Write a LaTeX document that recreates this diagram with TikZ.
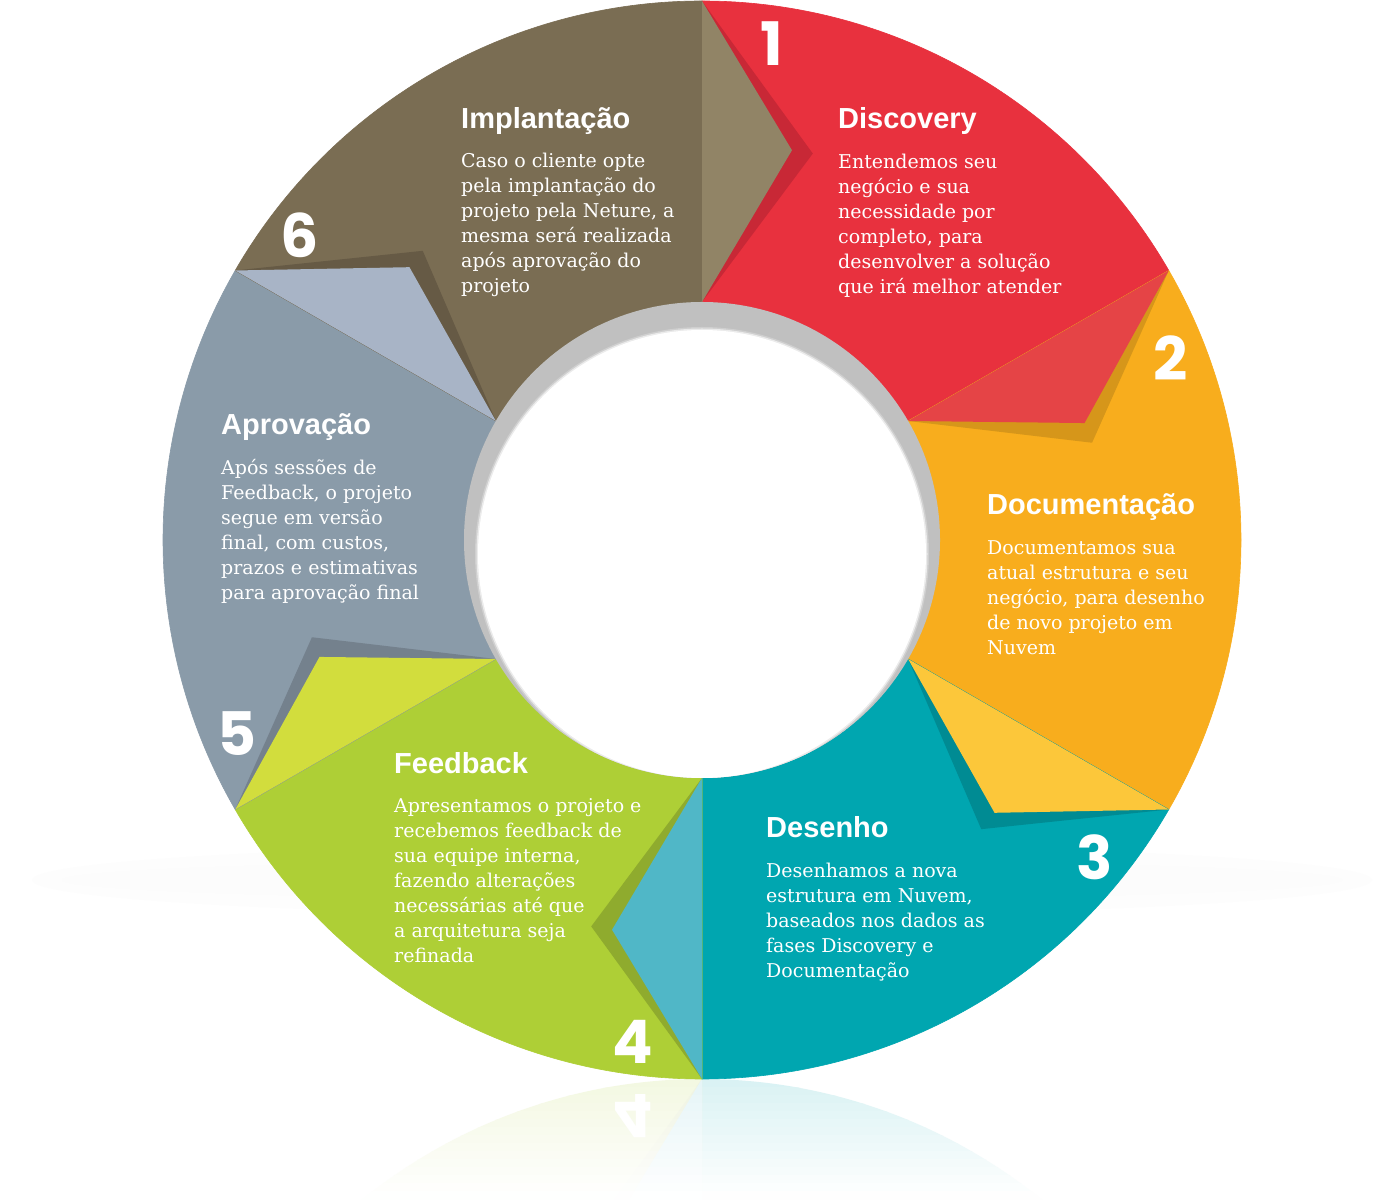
\documentclass[tikz,border=0pt]{standalone}
\usepackage{fontspec}
\usepackage{graphicx}
\setmainfont{DejaVu Serif}
\newfontfamily\titlefont{Liberation Sans}
\newfontfamily\numfont{Poppins}
\definecolor{cBrown}{HTML}{7A6D53}\definecolor{cBrownL}{HTML}{918466}\definecolor{cBrownD}{HTML}{665A45}
\definecolor{cRed}{HTML}{E8313E}\definecolor{cRedL}{HTML}{E54446}\definecolor{cRedD}{HTML}{C82836}
\definecolor{cOrange}{HTML}{F8AD1D}\definecolor{cOrangeL}{HTML}{FCC73A}\definecolor{cOrangeD}{HTML}{D6961A}
\definecolor{cTeal}{HTML}{00A6B0}\definecolor{cTealL}{HTML}{50B7C7}\definecolor{cTealD}{HTML}{008B93}
\definecolor{cGreen}{HTML}{AECF36}\definecolor{cGreenL}{HTML}{D2DD3D}\definecolor{cGreenD}{HTML}{8FAB2E}
\definecolor{cGrey}{HTML}{8A9BA9}\definecolor{cGreyL}{HTML}{A8B4C6}\definecolor{cGreyD}{HTML}{74818D}
\definecolor{cHole}{HTML}{C0C0C0}
\newcommand\bodylines[1]{\vtop{\baselineskip=25pt\lineskiplimit=-100pt\halign{##\hfil\cr#1\crcr}}}
\begin{document}
\begin{tikzpicture}[x=1pt,y=1pt,
  ttl/.style={anchor=base west, inner sep=0pt, text=white, font=\titlefont\bfseries\fontsize{29}{30}\selectfont},
  bdy/.style={anchor=base west, inner sep=0pt, text=white, font=\fontsize{19}{25}\selectfont},
  num/.style={inner sep=0pt, text=white, font=\numfont\bfseries\fontsize{60}{60}\selectfont},
  sect/.style={fill=#1, draw=#1, line width=0.6pt}]
\useasboundingbox (0,0) rectangle (1400,1200);
\fill[white] (0,0) rectangle (1400,1200);
% faint ground shadow
\fill[gray!1.5] (702,320) ellipse[x radius=670, y radius=36];
\fill[gray!2.5] (702,320) ellipse[x radius=640, y radius=20];
% reflection
\foreach \i in {0,...,14}{
  \pgfmathsetmacro\p{15*(1-(\i+0.5)/15)}
  \begin{scope}
    \clip (0,{121-8*\i}) rectangle (1400,{121-8*(\i+1)});
    \begin{scope}[shift={(702,-418)},yscale=-1]
      \fill[cGreen!\p!white] (0,0) -- (-150:539) arc[start angle=-150,end angle=-90,radius=539] -- cycle;
      \fill[cTeal!\p!white] (0,0) -- (-90:539) arc[start angle=-90,end angle=-30,radius=539] -- cycle;
      \fill[cGreenD!\p!white] (-90:238) -- (-106:402) -- (-90:539) -- cycle;
      \fill[cTealL!\p!white] (-90:238) -- (-103:400) -- (-90:539) -- cycle;
    \end{scope}
  \end{scope}
}
\node[num] (n4r) at (633,84) {\scalebox{1}[-1]{4}};
% ring
\begin{scope}[shift={(702,660)}]
  \path[sect=cRed] (0,0) -- (30:539) arc[start angle=30,end angle=90,radius=539] -- cycle;
  \path[sect=cOrange] (0,0) -- (-30:539) arc[start angle=-30,end angle=30,radius=539] -- cycle;
  \path[sect=cTeal] (0,0) -- (-90:539) arc[start angle=-90,end angle=-30,radius=539] -- cycle;
  \path[sect=cGreen] (0,0) -- (-150:539) arc[start angle=-150,end angle=-90,radius=539] -- cycle;
  \path[sect=cGrey] (0,0) -- (150:539) arc[start angle=150,end angle=210,radius=539] -- cycle;
  \path[sect=cBrown] (0,0) -- (90:539) arc[start angle=90,end angle=150,radius=539] -- cycle;
  % tips with shadows
  \fill[cRedD] (90:238) -- (74:402) -- (90:539) -- cycle;
  \fill[cBrownL] (90:238) -- (77:400) -- (90:539) -- cycle;
  \fill[cOrangeD] (30:238) -- (14:402) -- (30:539) -- cycle;
  \fill[cRedL] (30:238) -- (17:400) -- (30:539) -- cycle;
  \fill[cTealD] (-30:238) -- (-46:402) -- (-30:539) -- cycle;
  \fill[cOrangeL] (-30:238) -- (-43:400) -- (-30:539) -- cycle;
  \fill[cGreenD] (-90:238) -- (-106:402) -- (-90:539) -- cycle;
  \fill[cTealL] (-90:238) -- (-103:400) -- (-90:539) -- cycle;
  \fill[cGreyD] (-150:238) -- (-166:402) -- (-150:539) -- cycle;
  \fill[cGreenL] (-150:238) -- (-163:400) -- (-150:539) -- cycle;
  \fill[cBrownD] (150:238) -- (134:402) -- (150:539) -- cycle;
  \fill[cGreyL] (150:238) -- (137:400) -- (150:539) -- cycle;
  % hole
  \fill[cHole] (0,0) circle[radius=238];
  \begin{scope}
    \clip (0,0) circle[radius=238];
    \fill[gray!38!white] (0,-14) circle[radius=227];
    \fill[gray!16!white] (0,-14) circle[radius=225.5];
    \fill[white] (0,-14) circle[radius=224];
  \end{scope}
\end{scope}
% numbers
\node[num] (n1) at (772,1156) {1};
\node[num] (n2) at (1171,842) {2};
\node[num] (n3) at (1095,343) {3};
\node[num] (n4) at (633,158) {4};
\node[num] (n5) at (237,466) {5};
\node[num] (n6) at (300,965) {6};
% texts
\node[ttl] (t6) at (461,1071) {Implantação};
\node[bdy] (b6) at (461,1032) {\bodylines{Caso o cliente opte\cr pela implantação do\cr projeto pela Neture, a\cr mesma será realizada\cr após aprovação do\cr projeto}};
\node[ttl] (t1) at (838,1071) {Discovery};
\node[bdy] (b1) at (838,1031) {\bodylines{Entendemos seu\cr negócio e sua\cr necessidade por\cr completo, para\cr desenvolver a solução\cr que irá melhor atender}};
\node[ttl] (t2) at (987,685) {Documentação};
\node[bdy] (b2) at (987,645) {\bodylines{Documentamos sua\cr atual estrutura e seu\cr negócio, para desenho\cr de novo projeto em\cr Nuvem}};
\node[ttl] (t3) at (766,362) {Desenho};
\node[bdy] (b3) at (766,322) {\bodylines{Desenhamos a nova\cr estrutura em Nuvem,\cr baseados nos dados as\cr fases Discovery e\cr Documentação}};
\node[ttl] (t4) at (394,426) {Feedback};
\node[bdy] (b4) at (394,387) {\bodylines{Apresentamos o projeto e\cr recebemos feedback de\cr sua equipe interna,\cr fazendo alterações\cr necessárias até que\cr a arquitetura seja\cr refinada}};
\node[ttl] (t5) at (221,765) {Aprovação};
\node[bdy] (b5) at (221,725) {\bodylines{Após sessões de\cr Feedback, o projeto\cr segue em versão\cr final, com custos,\cr prazos e estimativas\cr para aprovação final}};
\end{tikzpicture}
\end{document}
